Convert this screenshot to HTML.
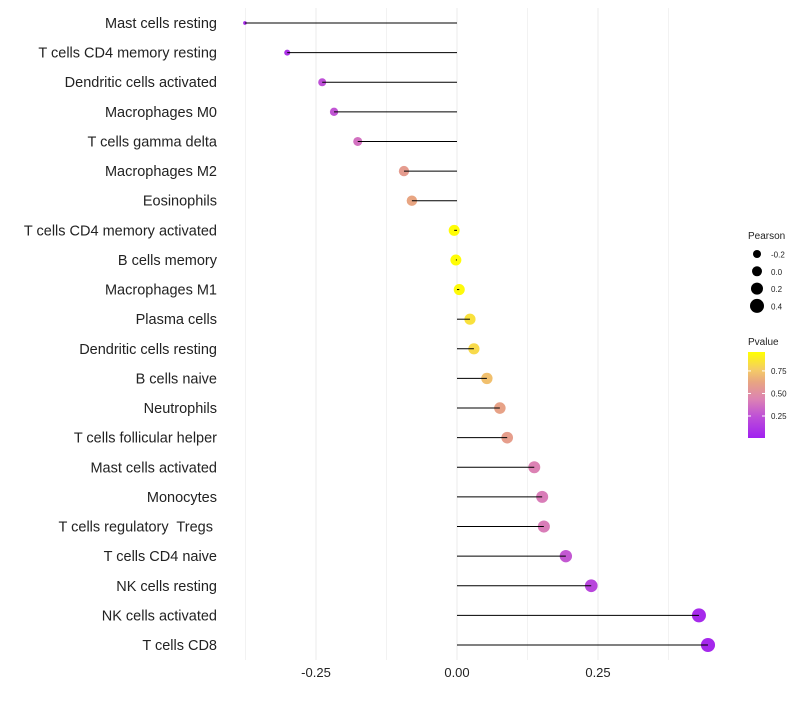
<!DOCTYPE html>
<html><head><meta charset="utf-8"><style>
body{margin:0;background:#fff;}
text{font-family:"Liberation Sans",sans-serif;white-space:pre;}
</style></head><body>
<svg id="chart" width="800" height="700" xmlns="http://www.w3.org/2000/svg"></svg>
<script>
const categories=["Mast cells resting","T cells CD4 memory resting","Dendritic cells activated","Macrophages M0","T cells gamma delta","Macrophages M2","Eosinophils","T cells CD4 memory activated","B cells memory","Macrophages M1","Plasma cells","Dendritic cells resting","B cells naive","Neutrophils","T cells follicular helper","Mast cells activated","Monocytes","T cells regulatory  Tregs ","T cells CD4 naive","NK cells resting","NK cells activated","T cells CD8"];
const pearson=[-0.376,-0.301,-0.239,-0.218,-0.176,-0.094,-0.080,-0.005,-0.002,0.004,0.023,0.030,0.053,0.076,0.089,0.137,0.151,0.154,0.193,0.238,0.429,0.445];
const pvalues=[0.06,0.1,0.25,0.27,0.38,0.6,0.65,0.99,0.99,0.98,0.88,0.85,0.75,0.63,0.61,0.45,0.43,0.43,0.28,0.2,0.05,0.04];
const xTicks=[-0.25,0,0.25];
const xTickLabels=["-0.25","0.00","0.25"];
const xMinor=[-0.375,-0.125,0.125,0.375];
const sizeLegend=[-0.2,0.0,0.2,0.4];
const sizeLegendLabels=["-0.2","0.0","0.2","0.4"];
const colorTicks=[0.75,0.5,0.25];
const colorTickLabels=["0.75","0.50","0.25"];

const NS="http://www.w3.org/2000/svg";
const svg=document.getElementById('chart');
function mk(tag,attrs,parent){const e=document.createElementNS(NS,tag);for(const k in attrs)e.setAttribute(k,attrs[k]);(parent||svg).appendChild(e);return e;}
const x=v=>457+v*564;
const y=i=>23+i*(622/21);
function r(p){
 if(p>=-0.1) return 5.5+3.5*p;
 if(p>=-0.24) return 5.15+8.3*(p+0.1);
 return Math.max(1.5,3.99+16*(p+0.24));
}
const lr=p=>5+5*p;
const cs=[[0,[160,32,240]],[0.25,[190,80,215]],[0.45,[220,130,180]],[0.65,[232,165,130]],[0.8,[245,205,100]],[1,[255,255,0]]];
function col(p){p=Math.min(1,Math.max(0,p));let k=0;while(k<cs.length-2&&p>cs[k+1][0])k++;
 const [p0,a]=cs[k],[p1,b]=cs[k+1];const t=(p-p0)/(p1-p0);
 return `rgb(${a.map((v,i)=>Math.round(v+(b[i]-v)*t)).join(',')})`;}

const grid=mk('g',{});


xMinor.forEach(v=>{const l=mk('line',{x1:x(v),x2:x(v),y1:8,y2:660,stroke:'#f2f2f2','stroke-width':1},grid);
 
 });
xTicks.forEach((v,i)=>{const l=mk('line',{x1:x(v),x2:x(v),y1:8,y2:660,stroke:'#ebebeb','stroke-width':1},grid);
 
 
 const t=mk('text',{x:x(v),y:677,'text-anchor':'middle','font-size':13,fill:'#222'});t.textContent=xTickLabels[i];
 
 });

categories.forEach((c,i)=>{
 const t=mk('text',{x:217,y:y(i)+5,'text-anchor':'end','font-size':14.5,fill:'#222'});t.textContent=c;
 
 
 const d=mk('circle',{cx:x(pearson[i]),cy:y(i),r:r(pearson[i]),fill:col(pvalues[i])});
 
 
 const l=mk('line',{x1:x(0),x2:x(pearson[i]),y1:y(i),y2:y(i),stroke:'#000','stroke-width':1});
 
 
});

const lg=mk('g',{});


const lt=mk('text',{x:748,y:239,'font-size':10,fill:'#222'},lg);lt.textContent='Pearson';
sizeLegend.forEach((v,i)=>{const cy=254+i*17.3;
 const c=mk('circle',{cx:757,cy:cy,r:lr(v)},lg);
 
 
 const t=mk('text',{x:771,y:cy+3.5,'font-size':8,fill:'#222'},lg);t.textContent=sizeLegendLabels[i];});

const cg=mk('g',{});


const ct=mk('text',{x:748,y:345,'font-size':10,fill:'#222'},cg);ct.textContent='Pvalue';
const defs=mk('defs',{});const lgd=mk('linearGradient',{id:'pg',x1:0,y1:1,x2:0,y2:0},defs);
[0,0.25,0.45,0.65,0.8,1].forEach(s=>mk('stop',{offset:s,'stop-color':col(s)},lgd));
const cbTop=352,cbBot=438,pt=0.96,pb=0.006;
const py=p=>cbBot-(p-pb)/(pt-pb)*(cbBot-cbTop);
const bar=mk('rect',{x:748,y:cbTop,width:17,height:cbBot-cbTop,fill:'url(#pg)'},cg);


colorTicks.forEach((v,i)=>{mk('line',{x1:748,x2:751,y1:py(v),y2:py(v),stroke:'#fff'},cg);mk('line',{x1:762,x2:765,y1:py(v),y2:py(v),stroke:'#fff'},cg);
 const t=mk('text',{x:771,y:py(v)+3,'font-size':8,fill:'#222'},cg);t.textContent=colorTickLabels[i];});
</script>
</body></html>
